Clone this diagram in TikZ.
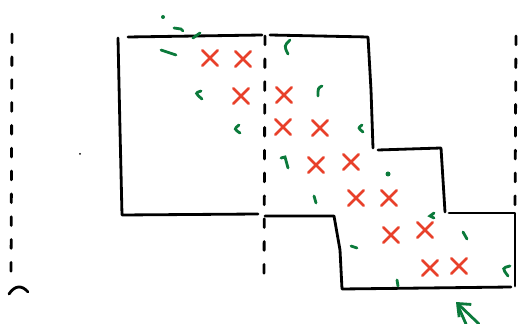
\documentclass[tikz,border=0pt]{standalone}
\usepackage{tikz}
\usetikzlibrary{shapes,shapes.misc,arrows.meta}
\definecolor{sketchred}{HTML}{E8402A}
\definecolor{sketchgreen}{HTML}{0B7A3B}

\begin{document}
\begin{tikzpicture}[x=0.02cm, y=-0.02cm,
  outline/.style={line width=1.6pt, black, line cap=round, line join=round},
  gridline/.style={line width=1.6pt, black, line cap=round, dash pattern=on 5pt off 8pt},
  redx/.style={cross out, draw=sketchred, line width=1.6pt, line cap=round, minimum size=7pt, inner sep=0pt},
  greenmark/.style={line width=1.6pt, sketchgreen, line cap=round}]
\useasboundingbox (0,0) rectangle (521,324);

% Dashed column lines
\draw[gridline] (12,34) -- (11,284);
\draw[outline] (9,294) .. controls (15,285) and (22,285) .. (28,292);
\draw[gridline] (265,36) -- (264,280);
\draw[gridline] (516,36) -- (515,212);
\fill (80,154) circle (1);

% Staircase outline
\draw[outline] (128,37) -- (262,35);
\draw[outline] (270,35) -- (368,37) -- (371,90) -- (373,148);
\draw[outline] (118,38) -- (120,130) -- (122,215) -- (258,214);
\draw[outline] (378,150) -- (441,148) -- (443,180) -- (445,212);
\draw[outline] (449,213) -- (515,213) -- (515,286);
\draw[outline] (265,216) -- (334,216) -- (340,250) -- (342,289) -- (511,287);

% Red crosses
\node[redx] (x1) at (210,58) {};
\node[redx] (x2) at (243,59) {};
\node[redx] (x3) at (241,96) {};
\node[redx] (x4) at (284,95) {};
\node[redx] (x5) at (283,127) {};
\node[redx] (x6) at (320,128) {};
\node[redx] (x7) at (316,165) {};
\node[redx] (x8) at (351,162) {};
\node[redx] (x9) at (356,198) {};
\node[redx] (x10) at (389,198) {};
\node[redx] (x11) at (391,235) {};
\node[redx] (x12) at (425,230) {};
\node[redx] (x13) at (430,268) {};
\node[redx] (x14) at (459,266) {};

% Green ticks
\fill[sketchgreen] (163,17) circle (2);
\draw[greenmark] (174,28) -- (181,29) -- (183,31);
\draw[greenmark] (193,38) -- (200,33);
\draw[greenmark] (161,50) -- (176,55);
\draw[greenmark] (201,91) .. controls (195,93) .. (202,99);
\draw[greenmark] (239,125) .. controls (234,129) .. (240,133);
\draw[greenmark] (290,40) .. controls (284,46) .. (288,54);
\draw[greenmark] (322,86) .. controls (318,88) .. (318,96);
\draw[greenmark] (362,125) .. controls (358,128) .. (363,132);
\draw[greenmark] (281,158) -- (285,157) -- (288,168);
\fill[sketchgreen] (388,174) circle (2.5);
\draw[greenmark] (314,196) -- (316,203);
\draw[greenmark] (434,213) -- (430,216) -- (434,218);
\draw[greenmark] (463,232) -- (467,239);
\draw[greenmark] (351,246) -- (357,248);
\draw[greenmark] (397,280) -- (398,286);
\draw[greenmark] (510,266) .. controls (502,268) .. (508,276);

% Green arrow
\draw[greenmark, -{Straight Barb[length=6pt, width=10pt]}] (479,324) -- (456,302);
\draw[greenmark] (466,324) -- (458,306);

\end{tikzpicture}
\end{document}
